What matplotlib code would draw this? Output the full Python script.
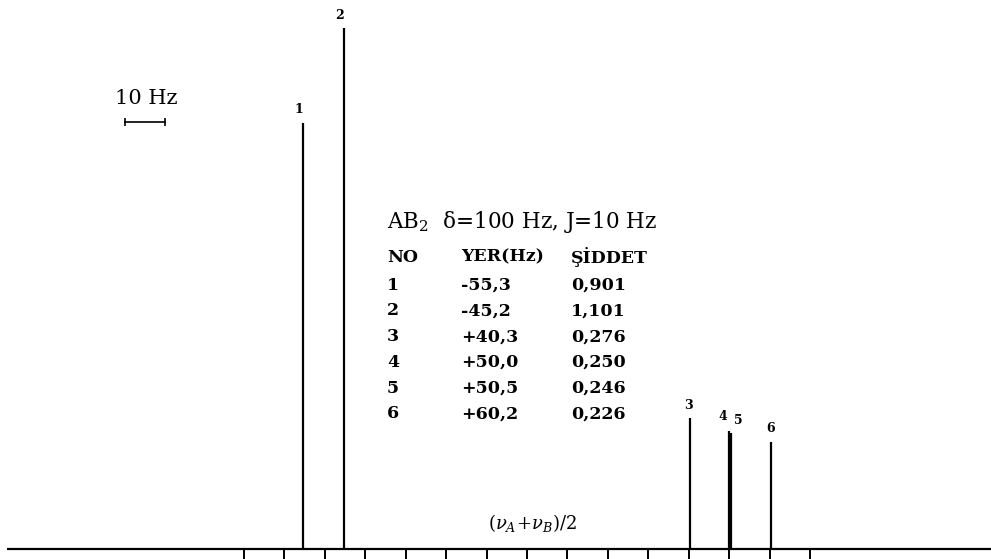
import matplotlib
matplotlib.use("Agg")
import matplotlib.pyplot as plt

plt.rcParams["mathtext.fontset"] = "dejavuserif"

# AB2 spin system: line positions (Hz, relative to (vA+vB)/2) and intensities
line_no = ["1", "2", "3", "4", "5", "6"]
positions = [-55.3, -45.2, 40.3, 50.0, 50.5, 60.2]
intensities = [0.901, 1.101, 0.276, 0.250, 0.246, 0.226]
position_text = ["-55,3", "-45,2", "+40,3", "+50,0", "+50,5", "+60,2"]
intensity_text = ["0,901", "1,101", "0,276", "0,250", "0,246", "0,226"]
tick_hz = list(range(-70, 71, 10))

PX_PER_HZ = 4.047
PX_PER_UNIT = 473.0
X0_PX = 527.0
BASE_PX = 549.0


def hx(px):
    """Horizontal pixel column -> Hz."""
    return (px - X0_PX) / PX_PER_HZ


def iy(py):
    """Vertical pixel row (from top) -> intensity units."""
    return (BASE_PX - py) / PX_PER_UNIT


fig = plt.figure(figsize=(9.91, 5.59), dpi=100)
ax = fig.add_axes([0, 0, 1, 1])
ax.set_xlim(hx(0), hx(991))
ax.set_ylim(iy(559), iy(0))
ax.axis("off")

# baseline and frequency ticks (10 Hz apart)
ax.plot([hx(7), hx(991)], [0, 0], color="black", lw=1.6, solid_capstyle="butt")
ax.vlines(tick_hz, iy(559), 0, color="black", lw=1.4)

# stick spectrum
ax.vlines(positions, 0, intensities, color="black", lw=1.6)

# line numbers above the sticks (4 and 5 spread apart)
label_dx = [-3, -3, -1, -5, 5, 0]
label_dy = [9.5, 9.5, 9, 10, 9, 10]
for name, x, h, dx, dy in zip(line_no, positions, intensities, label_dx, label_dy):
    ax.annotate(name, (x, h), xytext=(dx, dy), textcoords="offset points",
                ha="center", va="center", fontsize=9, fontweight="bold",
                family="DejaVu Serif")

# 10 Hz scale bar
ax.text(hx(146), iy(98), "10 Hz", ha="center", va="center", fontsize=15,
        family="DejaVu Serif")
bar_y = iy(122)
ax.plot([hx(125), hx(125) + 10], [bar_y, bar_y], color="black", lw=1.2)
ax.vlines([hx(125), hx(125) + 10], bar_y - 0.008, bar_y + 0.008,
          color="black", lw=1.2)

# centre label
ax.text(hx(533), iy(523), r"$(\nu_A\!+\!\nu_B)/2$", ha="center", va="center",
        fontsize=13)

# parameter table
col_no, col_pos, col_int = hx(387), hx(461), hx(571)
ax.text(col_no, iy(222), r"AB$_2$  δ=100 Hz, J=10 Hz", ha="left",
        va="center", fontsize=15.5, family="DejaVu Serif")
row_style = dict(ha="left", va="center", fontsize=12.5, fontweight="bold",
                 family="DejaVu Serif")
ax.text(col_no, iy(257), "NO", **row_style)
ax.text(col_pos, iy(257), "YER(Hz)", **row_style)
ax.text(col_int, iy(257), "ŞİDDET", **row_style)
for i, (n, p, s) in enumerate(zip(line_no, position_text, intensity_text)):
    y = iy(285 + 25.8 * i)
    ax.text(col_no, y, n, **row_style)
    ax.text(col_pos, y, p, **row_style)
    ax.text(col_int, y, s, **row_style)

fig.savefig("out.png", dpi=100, facecolor="white")
